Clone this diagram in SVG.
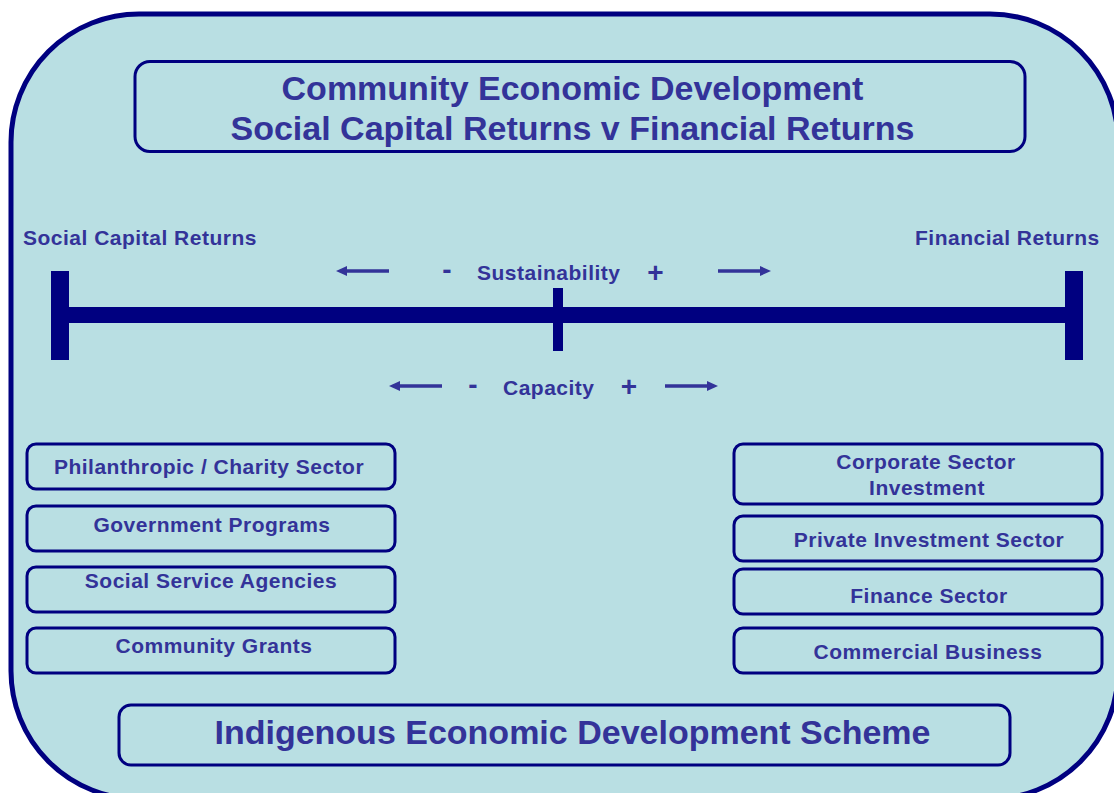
<svg xmlns="http://www.w3.org/2000/svg" width="1114" height="793" viewBox="0 0 1114 793">
  <style>
    .frame { fill: #B9DFE3; stroke: #000080; stroke-width: 5; }
    .box { fill: #B9DFE3; stroke: #000080; stroke-width: 3; }
    .bar { fill: #000080; }
    .t { font-family: "Liberation Sans", Arial, sans-serif; font-weight: bold; fill: #333399; }
    .big { font-size: 34px; text-anchor: middle; }
    .lbl { font-size: 21px; letter-spacing: 0.5px; }
    .mid { text-anchor: middle; }
    .sign { font-size: 28px; text-anchor: middle; }
    .arrow { stroke: #333399; stroke-width: 3.3; fill: none; marker-end: url(#head); }
  </style>
  <defs>
    <marker id="head" markerUnits="userSpaceOnUse" markerWidth="12" markerHeight="11" refX="0" refY="5.5" orient="auto">
      <path d="M0,0.5 L11,5.5 L0,10.5 Z" fill="#333399"/>
    </marker>
  </defs>

  <!-- outer rounded frame, running off the right and bottom edges -->
  <rect class="frame" x="11" y="14" width="1107" height="785" rx="128" ry="128"/>

  <!-- heading -->
  <g id="title">
    <rect class="box" x="135" y="61.5" width="890" height="90" rx="15" ry="15"/>
    <text class="t big" x="572.5" y="100">Community Economic Development</text>
    <text class="t big" x="572.5" y="140">Social Capital Returns v Financial Returns</text>
  </g>

  <!-- scale bar with end caps and midpoint tick -->
  <g id="scale">
    <rect class="bar" x="60" y="307" width="1014" height="16"/>
    <rect class="bar" x="51" y="271" width="18" height="89"/>
    <rect class="bar" x="1065" y="271" width="18" height="89"/>
    <rect class="bar" x="553" y="288" width="10" height="63"/>
  </g>

  <!-- scale end labels -->
  <g id="scale-labels">
    <text class="t lbl" x="23" y="245">Social Capital Returns</text>
    <text class="t lbl" x="915" y="245">Financial Returns</text>
  </g>

  <!-- sustainability row -->
  <g id="sustainability">
    <text class="t sign" x="447" y="279">-</text>
    <text class="t lbl" x="477" y="280">Sustainability</text>
    <text class="t sign" x="655.5" y="282">+</text>
  </g>

  <!-- capacity row -->
  <g id="capacity">
    <text class="t sign" x="473" y="394">-</text>
    <text class="t lbl" x="503" y="395">Capacity</text>
    <text class="t sign" x="629" y="396">+</text>
  </g>

  <!-- direction arrows -->
  <g id="connectors">
    <line class="arrow" x1="389" y1="271" x2="347" y2="271"/>
    <line class="arrow" x1="718" y1="271" x2="760" y2="271"/>
    <line class="arrow" x1="442" y1="386" x2="400" y2="386"/>
    <line class="arrow" x1="665" y1="386" x2="707" y2="386"/>
  </g>

  <!-- social capital sources -->
  <g id="philanthropic">
    <rect class="box" x="27" y="444" width="368" height="45" rx="9" ry="9"/>
    <text class="t lbl mid" x="209" y="474">Philanthropic / Charity Sector</text>
  </g>
  <g id="government">
    <rect class="box" x="27" y="506" width="368" height="45" rx="9" ry="9"/>
    <text class="t lbl mid" x="212" y="532">Government Programs</text>
  </g>
  <g id="social-service">
    <rect class="box" x="27" y="567" width="368" height="45" rx="9" ry="9"/>
    <text class="t lbl mid" x="211" y="588">Social Service Agencies</text>
  </g>
  <g id="community-grants">
    <rect class="box" x="27" y="628" width="368" height="45" rx="9" ry="9"/>
    <text class="t lbl mid" x="214" y="653">Community Grants</text>
  </g>

  <!-- financial sources -->
  <g id="corporate">
    <rect class="box" x="734" y="444" width="368" height="60" rx="9" ry="9"/>
    <text class="t lbl mid" x="926" y="469">Corporate Sector</text>
    <text class="t lbl mid" x="927" y="495">Investment</text>
  </g>
  <g id="private-investment">
    <rect class="box" x="734" y="516" width="368" height="45" rx="9" ry="9"/>
    <text class="t lbl mid" x="929" y="547">Private Investment Sector</text>
  </g>
  <g id="finance">
    <rect class="box" x="734" y="569" width="368" height="45" rx="9" ry="9"/>
    <text class="t lbl mid" x="929" y="603">Finance Sector</text>
  </g>
  <g id="commercial">
    <rect class="box" x="734" y="628" width="368" height="45" rx="9" ry="9"/>
    <text class="t lbl mid" x="928" y="659">Commercial Business</text>
  </g>

  <!-- scheme banner -->
  <g id="scheme">
    <rect class="box" x="119" y="705" width="891" height="60" rx="12" ry="12"/>
    <text class="t big" x="572.5" y="744">Indigenous Economic Development Scheme</text>
  </g>
</svg>
